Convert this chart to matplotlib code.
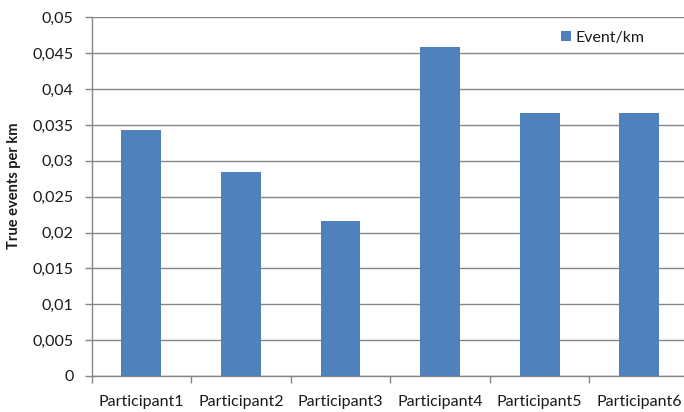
import matplotlib
matplotlib.use("Agg")
import matplotlib.pyplot as plt
import numpy as np

categories = ["Participant1", "Participant2", "Participant3",
              "Participant4", "Participant5", "Participant6"]
events_per_km = [0.0343, 0.0285, 0.0216, 0.0458, 0.0366, 0.0366]
y_ticks = [0, 0.005, 0.01, 0.015, 0.02, 0.025, 0.03, 0.035, 0.04, 0.045, 0.05]
y_tick_labels = ["0", "0,005", "0,01", "0,015", "0,02", "0,025",
                 "0,03", "0,035", "0,04", "0,045", "0,05"]

plt.rcParams["font.family"] = ["Lato", "DejaVu Sans"]

fig = plt.figure(figsize=(6.84, 4.12), dpi=100)
ax = fig.add_axes([0.1338, 0.0874, 0.8735, 0.8706])

grid_col = "#868686"
bar_col = "#4F81BD"
text_col = "#1a1a1a"

x = np.arange(len(categories))
ax.bar(x, events_per_km, width=0.4, color=bar_col, zorder=3, label="Event/km")

ax.set_xlim(-0.5, len(categories) - 0.5)
ax.set_ylim(0, 0.05)
ax.set_yticks(y_ticks)
ax.set_yticklabels(y_tick_labels)
ax.yaxis.grid(True, color=grid_col, linewidth=1.0, zorder=0)

# category labels centered, tick marks on category boundaries
ax.set_xticks(x)
ax.set_xticklabels(categories)
ax.tick_params(axis="x", length=0, pad=14, labelsize=11.5, labelcolor=text_col)
ax.set_xticks(np.arange(-0.5, len(categories), 1.0), minor=True)
ax.tick_params(axis="x", which="minor", length=5, color=grid_col, width=1)
ax.tick_params(axis="y", length=5, color=grid_col, width=1, pad=8,
               labelsize=11.5, labelcolor=text_col)

for side in ("top", "right"):
    ax.spines[side].set_visible(False)
for side in ("left", "bottom"):
    ax.spines[side].set_color(grid_col)
    ax.spines[side].set_linewidth(1.0)

fig.text(0.021, 0.548, "True events per km", rotation=90, ha="center",
         va="center", fontsize=10.5, fontweight="bold", color=text_col)

leg = ax.legend(loc="upper left", bbox_to_anchor=(0.775, 0.98), frameon=False,
                fontsize=11.5, handlelength=0.6, handleheight=0.6,
                handletextpad=0.3, borderaxespad=0)
for t in leg.get_texts():
    t.set_color(text_col)

fig.savefig("out.png", dpi=100)
